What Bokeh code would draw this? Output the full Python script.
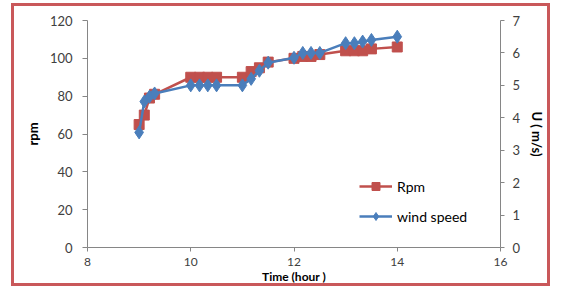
from bokeh.plotting import figure
from bokeh.models import Range1d, LinearAxis, Legend, LegendItem, FixedTicker
from bokeh.embed import file_html
from bokeh.resources import INLINE

# Data
time_h = [9.0, 9.1, 9.2, 9.3,
          10.0, 10.17, 10.33, 10.5,
          11.0, 11.17, 11.33, 11.5,
          12.0, 12.17, 12.33, 12.5,
          13.0, 13.17, 13.33, 13.5,
          14.0]
rpm = [65, 70, 79, 81,
       90, 90, 90, 90,
       90, 93, 95, 98,
       100, 101, 101, 102,
       104, 104, 104, 105,
       106]
wind_speed = [3.55, 4.5, 4.65, 4.75,
              5.0, 5.0, 5.0, 5.0,
              5.0, 5.2, 5.45, 5.7,
              5.85, 6.0, 6.0, 6.0,
              6.3, 6.3, 6.35, 6.4,
              6.5]
x_ticks = [8, 10, 12, 14, 16]
rpm_ticks = [0, 20, 40, 60, 80, 100, 120]
wind_ticks = [0, 1, 2, 3, 4, 5, 6, 7]

RED = "#c0504d"
BLUE = "#4a7ebb"
FONT = "Lato"
EDGE = "#c9585a"

W, H = 550, 286
p = figure(width=W, height=H, output_backend="svg", toolbar_location=None,
           x_range=Range1d(8, 16), y_range=Range1d(0, 120),
           min_border_left=87, min_border_right=50, min_border_top=20, min_border_bottom=38)
p.extra_y_ranges = {"wind": Range1d(0, 7)}
p.outline_line_color = None
p.xgrid.visible = False
p.ygrid.visible = False
p.background_fill_color = "white"
p.border_fill_color = None
# thin red outer chart border drawn behind the (transparent) canvas border area
grad = f"linear-gradient({EDGE},{EDGE})"
p.styles = {
    "background-color": "white",
    "background-image": ", ".join([grad] * 4),
    "background-repeat": "no-repeat",
    "background-position": "11px 3px, 11px 3px, 547px 3px, 11px 283px",
    "background-size": "3px 283px, 539px 3px, 3px 283px, 539px 3px",
}

def style_axis(ax):
    ax.axis_line_color = "#868686"
    ax.major_tick_line_color = "#868686"
    ax.minor_tick_line_color = None
    ax.major_tick_in = 0
    ax.major_tick_out = 5
    ax.major_label_text_font = FONT
    ax.major_label_text_font_size = "13px"
    ax.major_label_text_color = "#404040"
    ax.axis_label_text_font = FONT
    ax.axis_label_text_font_size = "13px"
    ax.axis_label_text_font_style = "bold"
    ax.axis_label_text_color = "#000000"

xa = p.xaxis[0]
xa.ticker = FixedTicker(ticks=x_ticks)
xa.axis_label = "Time (hour )"
style_axis(xa)
xa.major_tick_out = 4
xa.major_label_text_font_size = "12px"
xa.axis_label_text_font_size = "12px"
xa.major_label_standoff = 6
xa.axis_label_standoff = 0

ya = p.yaxis[0]
ya.ticker = FixedTicker(ticks=rpm_ticks)
ya.axis_label = "rpm"
style_axis(ya)
ya.major_label_standoff = 10
ya.axis_label_standoff = 6

ra = LinearAxis(y_range_name="wind", ticker=FixedTicker(ticks=wind_ticks), axis_label="U ( m/s)")
style_axis(ra)
ra.major_tick_out = 4
ra.major_label_standoff = 8
ra.axis_label_standoff = 6
p.add_layout(ra, "right")

r_line = p.line(time_h, rpm, line_color=RED, line_width=2.5)
r_pts = p.scatter(time_h, rpm, marker="square", size=10, fill_color=RED, line_color=RED)
w_line = p.line(time_h, wind_speed, y_range_name="wind", line_color=BLUE, line_width=2.5)
w_pts = p.scatter(time_h, wind_speed, y_range_name="wind", marker="diamond", size=13,
                  fill_color=BLUE, line_color=BLUE)

legend = Legend(items=[LegendItem(label="Rpm", renderers=[r_line, r_pts]),
                       LegendItem(label="wind speed", renderers=[w_line, w_pts])],
                location=(272, 21), border_line_color=None, background_fill_alpha=0,
                glyph_width=33, spacing=10, label_text_font=FONT, label_text_font_size="14px",
                label_text_color="#000000", padding=4, label_standoff=5)
p.add_layout(legend)

open("out.html", "w").write(file_html(p, INLINE))
